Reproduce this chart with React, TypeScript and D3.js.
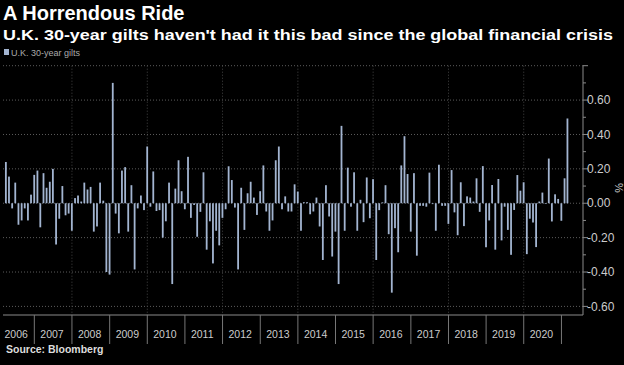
import * as d3 from "d3";

// monthly change in UK 30-year gilt yield (percentage points), Mar 2006 - Feb 2021
const startMonth = new Date(2006, 2, 1);
const changes = [
  0.24, 0.155, -0.03, 0.12, -0.125, -0.1, -0.03, -0.1, 0.05, 0.165,
  0.19, -0.14, 0.175, 0.09, 0.125, 0.2, -0.24, -0.09, 0.1, -0.07,
  -0.06, -0.16, 0.03, 0.045, 0.01, 0.12, 0.08, 0.095, -0.165, -0.135,
  0.12, 0.015, -0.4, -0.415, 0.7, -0.06, -0.175, 0.19, 0.21, -0.165,
  0.105, -0.385, -0.03, 0.045, -0.04, 0.33, -0.02, 0.185, -0.045, -0.04,
  -0.2, -0.105, 0.12, -0.47, 0.085, 0.25, 0.07, -0.035, 0.27, -0.085,
  -0.01, -0.195, -0.05, 0.18, -0.27, -0.105, -0.35, -0.16, -0.245, -0.085,
  -0.035, 0.215, 0.135, -0.025, -0.385, 0.09, -0.155, 0.058, 0.125, 0.033,
  -0.068, 0.07, 0.22, -0.048, -0.16, -0.1, 0.25, 0.33, -0.035, 0.04,
  -0.048, -0.048, 0.11, 0.068, -0.16, 0.006, 0.006, -0.064, -0.048, 0.033,
  -0.135, -0.33, 0.105, -0.077, -0.31, -0.165, -0.47, 0.45, -0.16, 0.207,
  -0.02, 0.18, -0.16, 0.02, -0.11, 0.15, -0.087, 0.14, -0.33, -0.04,
  0.005, 0.105, -0.18, -0.52, -0.145, -0.285, 0.22, 0.39, 0.17, -0.165,
  0.175, -0.305, -0.015, -0.015, -0.02, 0.178, -0.005, -0.16, 0.224, -0.015,
  -0.015, -0.12, 0.193, -0.053, -0.186, 0.122, -0.133, 0.04, 0.033, 0.01,
  0.145, -0.05, 0.216, -0.256, -0.1, 0.106, -0.27, 0.141, -0.216, -0.02,
  -0.155, -0.3, -0.039, 0.164, 0.073, 0.122, -0.296, -0.09, -0.112, -0.255,
  0.01, 0.062, -0.004, 0.26, -0.106, 0.052, 0.025, -0.102, 0.145, 0.493,
];
const months = d3.timeMonth.range(startMonth, d3.timeMonth.offset(startMonth, changes.length));

const yearLabels = [2006, 2007, 2008, 2009, 2010, 2011, 2012, 2013, 2014, 2015, 2016, 2017, 2018, 2019, 2020];
const yearTicks = [2007, 2008, 2009, 2010, 2011, 2012, 2013, 2014, 2015, 2016, 2017, 2018, 2019, 2020, 2021];
const gridYears = [2008, 2010, 2012, 2014, 2016, 2018, 2020];
const majorTicks = [-0.6, -0.4, -0.2, 0, 0.2, 0.4, 0.6, 0.8];
const minorTicks = [-0.5, -0.3, -0.1, 0.1, 0.3, 0.5, 0.7];

const W = 624;
const H = 365;
const left = 3;
const right = 583;
const top = 65.7;
const bottom = 315;

const barColor = "#a3b5d1";
const font = "'Liberation Sans', Arial, sans-serif";

const App = () => {
  const x = d3.scaleTime()
    .domain([new Date(2006, 0, 1), new Date(2021, 6, 29)])
    .range([-3.3, right]);
  const y = d3.scaleLinear().domain([-0.65, 0.8]).range([bottom, top]);
  const fmt = (v: number) => d3.format(".2f")(v).replace("−", "-");
  const monthEnd = (m: Date) => d3.timeDay.offset(d3.timeMonth.offset(m, 1), -1);

  return (
    <svg width={W} height={H} style={{position: "absolute", left: 0, top: 0, background: "#000"}}>
      <rect width={W} height={H} fill="#000" />
      <text x={3} y={20} fill="#fff" fontFamily={font} fontWeight="bold" fontSize={20}>A Horrendous Ride</text>
      <text x={3} y={40} fill="#fff" fontFamily={font} fontWeight="bold" fontSize={14.5}
        textLength={610} lengthAdjust="spacingAndGlyphs">
        U.K. 30-year gilts haven't had it this bad since the global financial crisis
      </text>
      <rect x={4} y={49} width={5} height={6} fill={barColor} />
      <text x={11} y={55.5} fill="#aaa" fontFamily={font} fontSize={9}>U.K. 30-year gilts</text>

      {majorTicks.map(t => (
        <line key={"h" + t} x1={left} x2={right} y1={y(t)} y2={y(t)}
          stroke="#5c5c5c" strokeWidth={1} strokeDasharray="1,2" />
      ))}
      {gridYears.map(yr => (
        <line key={"v" + yr} x1={x(new Date(yr, 0, 1))} x2={x(new Date(yr, 0, 1))} y1={top} y2={bottom}
          stroke="#444" strokeWidth={1} strokeDasharray="1,2" />
      ))}

      {changes.map((v, i) => {
        const cx = x(monthEnd(months[i]));
        return (
          <rect key={i} x={cx - 0.9} width={1.8}
            y={y(Math.max(0, v))} height={Math.abs(y(v) - y(0))} fill={barColor} />
        );
      })}

      <line x1={left} x2={right} y1={bottom} y2={bottom} stroke="#8a8a8a" />
      <line x1={right} x2={right} y1={top} y2={bottom} stroke="#8a8a8a" />
      {majorTicks.map(t => (
        <g key={"t" + t}>
          <line x1={right} x2={right + 5} y1={y(t)} y2={y(t)} stroke="#8a8a8a" />
          {t < 0.7 && (
            <text x={587} y={y(t) + 4.2} fill="#ccc" fontFamily={font} fontSize={12}>{fmt(t)}</text>
          )}
        </g>
      ))}
      {minorTicks.map(t => (
        <line key={"m" + t} x1={right} x2={right + 3} y1={y(t)} y2={y(t)} stroke="#8a8a8a" />
      ))}
      <text transform={`translate(615,${y(0.09)}) rotate(90)`} fill="#ccc" fontFamily={font}
        fontSize={11} textAnchor="middle">%</text>

      {yearTicks.map(yr => (
        <line key={"s" + yr} x1={x(new Date(yr, 0, 1))} x2={x(new Date(yr, 0, 1))} y1={bottom} y2={344}
          stroke="#777" />
      ))}
      {yearLabels.map(yr => (
        <text key={"l" + yr} x={Math.max(x(new Date(yr, 0, 1)) + 6, 4.5)} y={338} fill="#ccc"
          fontFamily={font} fontSize={10.5}>{yr}</text>
      ))}
      <text x={6} y={353} fill="#ddd" fontFamily={font} fontWeight="bold" fontSize={10.5}>Source: Bloomberg</text>
    </svg>
  );
};

export default App;
